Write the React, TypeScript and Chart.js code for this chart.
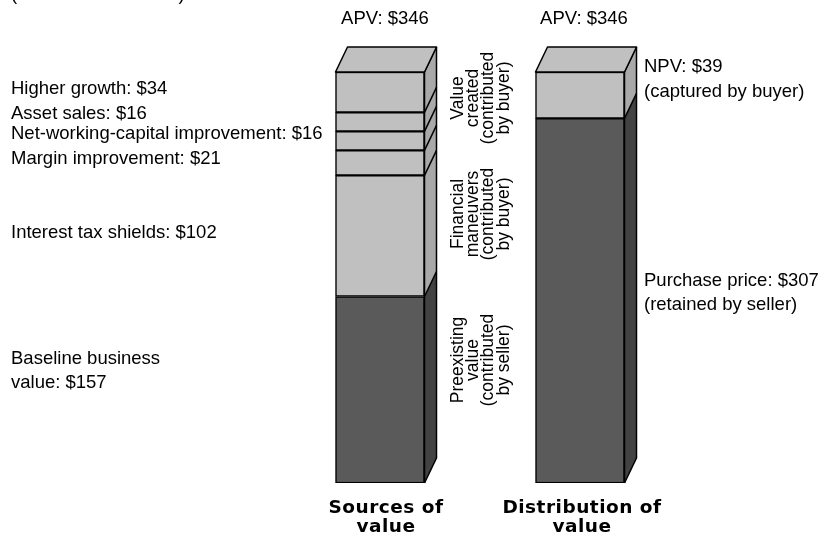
import React, { useEffect, useRef } from "react";
import { Chart, registerables } from "chart.js";

Chart.register(...registerables);

const categories = ["Sources of value", "Distribution of value"];
const sourcesLabels = [
  "Baseline business value",
  "Interest tax shields",
  "Margin improvement",
  "Net-working-capital improvement",
  "Asset sales",
  "Higher growth",
];
const sourcesValues = [157, 102, 21, 16, 16, 34];
const distributionLabels = ["Purchase price", "NPV"];
const distributionValues = [307, 39];
const apvTotal = 346;

const LIGHT = "#c0c0c0";
const LIGHT_SIDE = "#a9a9a9";
const DARK = "#5a5a5a";
const DARK_SIDE = "#424242";
const REG = "Liberation Sans";

const depthPlugin = {
  id: "depth3d",
  afterDatasetsDraw(chart: any) {
    const ctx = chart.ctx;
    const dx = 12;
    const dy = 25;
    ctx.save();
    ctx.lineWidth = 1.5;
    ctx.strokeStyle = "#000";
    ctx.lineJoin = "round";
    const groups: any[] = [[], []];
    chart.data.datasets.forEach((ds: any, i: number) => {
      const meta = chart.getDatasetMeta(i);
      meta.data.forEach((el: any, j: number) => {
        if (ds.data[j] == null) return;
        const p = el.getProps(["x", "y", "base", "width"], true);
        groups[j].push({
          left: p.x - p.width / 2,
          right: p.x + p.width / 2,
          top: Math.min(p.y, p.base),
          bottom: Math.max(p.y, p.base),
          side: ds.sideColor,
          face: ds.backgroundColor,
        });
      });
    });
    groups.forEach((segs: any[]) => {
      if (!segs.length) return;
      let topMost = Infinity;
      let bottomMost = -Infinity;
      let topSeg: any = null;
      segs.forEach((s) => {
        ctx.beginPath();
        ctx.moveTo(s.right, s.top);
        ctx.lineTo(s.right + dx, s.top - dy);
        ctx.lineTo(s.right + dx, s.bottom - dy);
        ctx.lineTo(s.right, s.bottom);
        ctx.closePath();
        ctx.fillStyle = s.side;
        ctx.fill();
        if (s.top < topMost) {
          topMost = s.top;
          topSeg = s;
        }
        bottomMost = Math.max(bottomMost, s.bottom);
      });
      segs.forEach((s) => {
        ctx.beginPath();
        ctx.moveTo(s.right, s.top);
        ctx.lineTo(s.right + dx, s.top - dy);
        ctx.stroke();
      });
      const r = topSeg.right;
      const l = topSeg.left;
      ctx.beginPath();
      ctx.moveTo(l, topMost);
      ctx.lineTo(l + dx, topMost - dy);
      ctx.lineTo(r + dx, topMost - dy);
      ctx.lineTo(r, topMost);
      ctx.closePath();
      ctx.fillStyle = topSeg.face;
      ctx.fill();
      ctx.stroke();
      ctx.beginPath();
      ctx.moveTo(r + dx, topMost - dy);
      ctx.lineTo(r + dx, bottomMost - dy);
      ctx.lineTo(r, bottomMost);
      ctx.stroke();
      ctx.beginPath();
      ctx.moveTo(r, topMost);
      ctx.lineTo(r, bottomMost);
      ctx.stroke();
    });
    ctx.restore();
  },
};

const textPlugin = {
  id: "texts",
  afterDraw(chart: any) {
    const ctx = chart.ctx;
    const xs = chart.scales.x;
    ctx.save();
    ctx.fillStyle = "#000";
    ctx.textAlign = "left";
    ctx.textBaseline = "alphabetic";
    ctx.font = `18.5px "${REG}"`;
    ctx.fillText("(in millions of dollars)", 11, -0.5);

    ctx.textBaseline = "middle";
    const left: [string, number][] = [
      [`Higher growth: $${sourcesValues[5]}`, 89],
      [`Asset sales: $${sourcesValues[4]}`, 114],
      [`Net-working-capital improvement: $${sourcesValues[3]}`, 134],
      [`Margin improvement: $${sourcesValues[2]}`, 159],
      [`Interest tax shields: $${sourcesValues[1]}`, 233],
      ["Baseline business", 359],
      [`value: $${sourcesValues[0]}`, 383],
    ];
    left.forEach(([t, y]) => ctx.fillText(t, 11, y));

    const rx = 644;
    const right: [string, number][] = [
      [`NPV: $${distributionValues[1]}`, 67],
      ["(captured by buyer)", 92],
      [`Purchase price: $${distributionValues[0]}`, 281],
      ["(retained by seller)", 305],
    ];
    right.forEach(([t, y]) => ctx.fillText(t, rx, y));

    ctx.textAlign = "center";
    const x0 = xs.getPixelForValue(0);
    const x1 = xs.getPixelForValue(1);
    ctx.fillText(`APV: $${apvTotal}`, x0 + 5, 19);
    ctx.fillText(`APV: $${apvTotal}`, x1 + 4, 19);

    ctx.font = `17.5px "${REG}"`;
    const groupsTxt: [string[], number][] = [
      [["Value", "created", "(contributed", "by buyer)"], 98],
      [["Financial", "maneuvers", "(contributed", "by buyer)"], 214],
      [["Preexisting", "value", "(contributed", "by seller)"], 360],
    ];
    groupsTxt.forEach(([lines, cy]) => {
      ctx.save();
      ctx.translate(458, cy);
      ctx.rotate(-Math.PI / 2);
      lines.forEach((ln, k) => ctx.fillText(ln, 0, k * 15.3));
      ctx.restore();
    });

    ctx.font = `bold 18.5px "DejaVu Sans"`;
    (ctx as any).letterSpacing = "0.5px";
    const c0 = categories[0].split(" ");
    const c1 = categories[1].split(" ");
    ctx.fillText(`${c0[0]} ${c0[1]}`, x0 + 6, 508);
    ctx.fillText(c0[2], x0 + 6, 527);
    ctx.fillText(`${c1[0]} ${c1[1]}`, x1 + 2, 508);
    ctx.fillText(c1[2], x1 + 2, 527);
    ctx.restore();
  },
};

export default function App() {
  const ref = useRef<HTMLCanvasElement>(null);
  useEffect(() => {
    if (!ref.current) return;
    const datasets: any[] = [];
    sourcesValues.forEach((v, i) => {
      datasets.push({
        label: sourcesLabels[i],
        data: [v, null],
        backgroundColor: i === 0 ? DARK : LIGHT,
        sideColor: i === 0 ? DARK_SIDE : LIGHT_SIDE,
        borderColor: "#000",
        borderWidth: 1.5,
        borderSkipped: false,
        barThickness: 89,
      });
    });
    distributionValues.forEach((v, i) => {
      datasets.push({
        label: distributionLabels[i],
        data: [null, v],
        backgroundColor: i === 0 ? DARK : LIGHT,
        sideColor: i === 0 ? DARK_SIDE : LIGHT_SIDE,
        borderColor: "#000",
        borderWidth: 1.5,
        borderSkipped: false,
        barThickness: 89,
      });
    });
    const chart = new Chart(ref.current, {
      type: "bar",
      data: { labels: categories, datasets },
      options: {
        responsive: false,
        animation: false,
        layout: { padding: { top: 72, bottom: 54, left: 280, right: 143 } },
        plugins: { legend: { display: false }, tooltip: { enabled: false } },
        scales: {
          x: { stacked: true, display: false },
          y: { stacked: true, display: false, min: 0, max: apvTotal },
        },
      },
      plugins: [depthPlugin, textPlugin],
    } as any);
    return () => chart.destroy();
  }, []);
  return (
    <div style={{ position: "fixed", left: 0, top: 0, width: 823, height: 537, background: "#fff" }}>
      <canvas ref={ref} width={823} height={537} style={{ width: 823, height: 537 }} />
    </div>
  );
}
